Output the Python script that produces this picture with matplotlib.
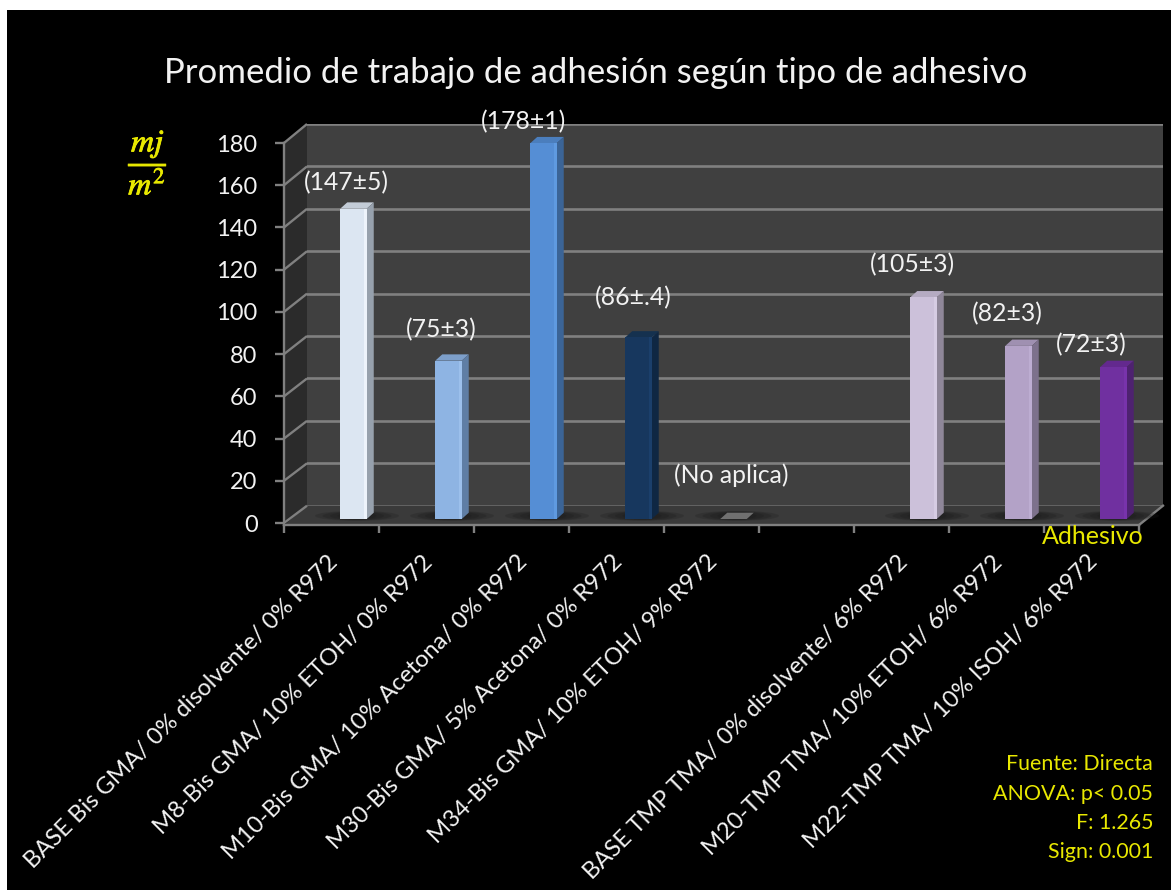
import matplotlib
matplotlib.use('Agg')
import matplotlib.pyplot as plt
import matplotlib.patheffects as pe
from matplotlib.patches import Polygon, Rectangle, Ellipse
from matplotlib.transforms import Affine2D

plt.rcParams['font.family'] = ['Lato', 'DejaVu Sans']
plt.rcParams['mathtext.fontset'] = 'stix'

W, H = 1171, 890

# datos
slots = [0, 1, 2, 3, 4, 6, 7, 8]
valores = [147, 75, 178, 86, 0, 105, 82, 72]
etiquetas = ['(147±5)', '(75±3)', '(178±1)', '(86±.4)', '(No aplica)', '(105±3)', '(82±3)', '(72±3)']
categorias = [
    'BASE Bis GMA/ 0% disolvente/ 0% R972',
    'M8-Bis GMA/ 10% ETOH/ 0% R972',
    'M10-Bis GMA/ 10% Acetona/ 0% R972',
    'M30-Bis GMA/ 5% Acetona/ 0% R972',
    'M34-Bis GMA/ 10% ETOH/ 9% R972',
    'BASE TMP TMA/ 0% disolvente/ 6% R972',
    'M20-TMP TMA/ 10% ETOH/ 6% R972',
    'M22-TMP TMA/ 10% ISOH/ 6% R972',
]
notas = ['Fuente: Directa', 'ANOVA: p< 0.05', 'F: 1.265', 'Sign: 0.001']

# colores de cada barra: frente, brillo, lado, tapa
frente = ['#DCE6F2', '#8EB4E3', '#558ED5', '#17375E', '#6E6E6E', '#CCC1DA', '#B3A2C7', '#7030A0']
brillo = ['#EDF3FB', '#9CC0EC', '#5F9AE0', '#1B3F6B', '#6E6E6E', '#D6CCE3', '#BDADD2', '#7833AB']
lado = ['#97A1AD', '#5F7EA5', '#3B6496', '#0F2743', '#5A5A5A', '#8F8799', '#7D718C', '#4E2270']
tapa = ['#C3CCD7', '#7D9FCA', '#4B7EBD', '#15314F', '#707070', '#B5ABC2', '#9F90B1', '#63298E']
# desplazamiento (px) de cada etiqueta respecto a la barra
offs = [(-7.5, 26), (-7.5, 31), (-19.5, 22), (-5.5, 40), (-2.5, 44), (-11.5, 33), (-11.5, 32), (-22.5, 22)]

AMARILLO = '#E8E800'
GRIS = '#808080'


def rect_px(x0, x1, y_top, y_bot):
    return [x0 / W, (H - y_bot) / H, (x1 - x0) / W, (y_bot - y_top) / H]


fig = plt.figure(figsize=(W / 100, H / 100), dpi=100, facecolor='white')
fig.patches.append(Rectangle((7 / W, 0), 1 - 7 / W, 1 - 10 / H, transform=fig.transFigure,
                             facecolor='black', edgecolor='none', zorder=-10))

# pared del fondo
ax_back = fig.add_axes(rect_px(307, 1163, 124, 505.7), facecolor='#404040', zorder=1)
ax_back.set_xlim(0, 9)
ax_back.set_ylim(0, 180)
ax_back.set_xticks([])
ax_back.set_yticks(range(0, 181, 20))
ax_back.grid(True, axis='y', color=GRIS, lw=1.9)
ax_back.tick_params(left=False, labelleft=False)
for s in ax_back.spines.values():
    s.set_visible(False)

# plano frontal
ax = fig.add_axes(rect_px(284, 1139, 143, 523), facecolor='none', zorder=2)
ax.set_xlim(0, 9)
ax.set_ylim(0, 180)


def to_front(x, y):
    # punto de la pared del fondo en datos del plano frontal
    return ax.transData.inverted().transform(ax_back.transData.transform((x, y)))


floor_drop = 2 * 180 / 380
p_ll = to_front(0, 0)
p_lt = to_front(0, 180)
p_rb = to_front(9, 0)
ax.add_patch(Polygon([(0, 0), tuple(p_ll), tuple(p_lt), (0, 180)], facecolor='#2B2B2B', edgecolor='none', clip_on=False, zorder=1))
ax.add_patch(Polygon([(0, -floor_drop), (9, -floor_drop), tuple(p_rb), tuple(p_ll)], facecolor='#3A3A3A', edgecolor='none', clip_on=False, zorder=1))
for v in range(0, 181, 20):
    ax.plot([0, to_front(0, v)[0]], [v, to_front(0, v)[1]], color=GRIS, lw=1.7, clip_on=False, zorder=2, solid_capstyle='butt')
ax.plot([9, p_rb[0]], [-floor_drop, p_rb[1]], color=GRIS, lw=1.7, clip_on=False, zorder=2)

# barras: van un poco detras y a la derecha del centro de cada categoria
bar_trans = Affine2D().translate(22, 4)
bar_trans = ax.transData + bar_trans
bw = 26.5 / 95
sx = 7 / 95
sy = 6.3 * 180 / 380
for i, (s, v) in enumerate(zip(slots, valores)):
    xc = s + 0.5
    for k, a in enumerate([0.25, 0.3, 0.35, 0.4]):
        ax.add_patch(Ellipse((xc + sx / 2, sy / 2), (84 - 15 * k) / 95, (10 - k) * 180 / 380, transform=bar_trans,
                             facecolor='#1E1E1E', alpha=a, edgecolor='none', clip_on=False, zorder=3))
    xl = xc - bw / 2
    xr = xc + bw / 2
    ax.add_patch(Polygon([(xl, v), (xl + sx, v + sy), (xr + sx, v + sy), (xr, v)], transform=bar_trans,
                         facecolor=tapa[i], edgecolor='none', clip_on=False, zorder=4))
    if v > 0:
        ax.add_patch(Polygon([(xr, 0), (xr + sx, sy), (xr + sx, v + sy), (xr, v)], transform=bar_trans,
                             facecolor=lado[i], edgecolor='none', clip_on=False, zorder=4))
        ax.bar(xc, v, width=bw, color=frente[i], transform=bar_trans, clip_on=False, zorder=5)
        ax.bar(xr - 1.5 / 95, v, width=3 / 95, color=brillo[i], transform=bar_trans, clip_on=False, zorder=6)
    ax.annotate(etiquetas[i], xy=(xc, v), xycoords=bar_trans, xytext=offs[i], textcoords='offset pixels',
                ha='center', va='center', color='#F2F2F2', fontsize=17.8, zorder=10, annotation_clip=False)
ax.set_xlim(0, 9)
ax.set_ylim(0, 180)

# ejes
for n in ['top', 'right']:
    ax.spines[n].set_visible(False)
for n in ['left', 'bottom']:
    ax.spines[n].set_color(GRIS)
    ax.spines[n].set_linewidth(1.7)
ax.spines['bottom'].set_position(('outward', 1.44))
ax.spines['left'].set_bounds(-floor_drop, 180)
ax.set_yticks(range(0, 181, 20))
ax.tick_params(axis='y', length=6.5, width=1.7, color=GRIS, labelcolor='#F2F2F2', labelsize=17, pad=12.5)
ax.set_xticks(range(10))
ax.set_xticklabels([])
ax.tick_params(axis='x', which='major', length=5.5, width=1.7, color=GRIS)
ax.set_xticks([s + 0.5 for s in slots], minor=True)
ax.set_xticklabels(categorias, minor=True, rotation=45, ha='right', rotation_mode='anchor',
                   color='#F2F2F2', fontsize=17.1)
ax.tick_params(axis='x', which='minor', length=0, pad=19)
for lab in ax.get_xticklabels(minor=True):
    lab.set_transform(lab.get_transform() + Affine2D().translate(-5, 0))

# textos
fig.text(596 / W, 1 - 73 / H, 'Promedio de trabajo de adhesión según tipo de adhesivo', color='#F2F2F2',
         fontsize=25, ha='center', va='center')
fig.text(148 / W, 1 - 162 / H, r'$\dfrac{mj}{m^2}$', color=AMARILLO, fontsize=23, ha='center', va='center',
         path_effects=[pe.withStroke(linewidth=0.6, foreground=AMARILLO)])
fig.text(1144 / W, 1 - 536 / H, 'Adhesivo', color=AMARILLO, fontsize=18, ha='right', va='center', zorder=20)
for txt, yy in zip(notas, [764, 794, 823, 852]):
    fig.text(1153 / W, 1 - yy / H, txt, color=AMARILLO, fontsize=15.4, ha='right', va='center')

fig.savefig('out.png', dpi=100, facecolor='white')
